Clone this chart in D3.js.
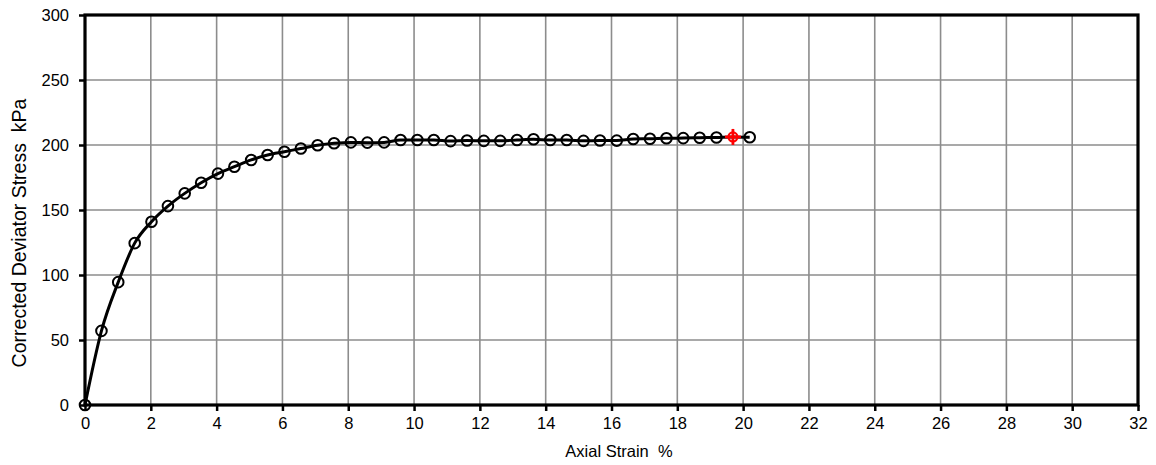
<!DOCTYPE html>
<html>
<head>
<meta charset="utf-8">
<script src="https://cdn.jsdelivr.net/npm/d3@7"></script>
<style>
  html, body { margin: 0; padding: 0; background: #fff; }
  svg { display: block; font-family: "Liberation Sans", Arial, sans-serif; }
</style>
</head>
<body>
<svg id="chart" width="1156" height="465"></svg>
<script>
// Stress-strain readings from the shear test
const strain = [0, 0.50, 1.01, 1.51, 2.02, 2.52, 3.03, 3.53, 4.04, 4.54,
  5.05, 5.55, 6.06, 6.56, 7.07, 7.57, 8.08, 8.58, 9.09, 9.59,
  10.10, 10.60, 11.11, 11.61, 12.12, 12.62, 13.13, 13.63, 14.14, 14.64,
  15.15, 15.65, 16.16, 16.66, 17.17, 17.67, 18.18, 18.68, 19.19, 19.69, 20.20];
const stress = [0, 57, 94.5, 124.5, 141, 153, 162.8, 171, 178, 183.3,
  188.5, 192.3, 194.8, 197.3, 199.8, 201.3, 202, 201.8, 202, 203.8,
  203.8, 203.8, 203, 203.5, 203.2, 203.2, 203.8, 204.4, 203.8, 203.8,
  203.2, 203.5, 203.4, 204.6, 204.8, 205.2, 205.3, 205.6, 205.8, 206.2, 206];
// Peak (failure) reading
const peakStrain = [19.69];
const peakStress = [206.2];

const xTicks = [0, 2, 4, 6, 8, 10, 12, 14, 16, 18, 20, 22, 24, 26, 28, 30, 32];
const yTicks = [0, 50, 100, 150, 200, 250, 300];
const xTitle = "Axial Strain  %";
const yTitle = "Corrected Deviator Stress  kPa";

const FONT = '"Liberation Sans", Arial, sans-serif';
const svg = d3.select("#chart");
const m = { left: 85, right: 1138, top: 15, bottom: 405 };

const x = d3.scaleLinear().domain([0, 32]).range([m.left, m.right]);
const y = d3.scaleLinear().domain([0, 300]).range([m.bottom, m.top]);

// grid
const grid = svg.append("g").attr("stroke", "#8c8c8c").attr("stroke-width", 1.6);
grid.selectAll("line.v").data(xTicks.slice(1, -1)).enter().append("line")
  .attr("x1", d => x(d)).attr("x2", d => x(d))
  .attr("y1", m.top).attr("y2", m.bottom);
grid.selectAll("line.h").data(yTicks.slice(1, -1)).enter().append("line")
  .attr("x1", m.left).attr("x2", m.right)
  .attr("y1", d => y(d)).attr("y2", d => y(d));

// axes
const xAxis = d3.axisBottom(x).tickValues(xTicks).tickSize(6).tickSizeOuter(0).tickPadding(6);
const yAxis = d3.axisLeft(y).tickValues(yTicks).tickSize(6).tickSizeOuter(0).tickPadding(10);

const gx = svg.append("g").attr("transform", `translate(0,${m.bottom})`).call(xAxis);
const gy = svg.append("g").attr("transform", `translate(${m.left},0)`).call(yAxis);
[gx, gy].forEach(g => {
  g.select(".domain").remove();
  g.attr("font-size", null).attr("font-family", null);
  g.selectAll(".tick line").attr("stroke", "#000").attr("stroke-width", 2.5);
  g.selectAll(".tick text").attr("fill", "#000")
    .style("font-size", "16.5px").style("font-family", FONT);
});

// frame
svg.append("rect")
  .attr("x", m.left).attr("y", m.top)
  .attr("width", m.right - m.left).attr("height", m.bottom - m.top)
  .attr("fill", "none").attr("stroke", "#000").attr("stroke-width", 3.2);

// curve
const pts = strain.map((s, i) => [s, stress[i]]);
const line = d3.line().x(d => x(d[0])).y(d => y(d[1])).curve(d3.curveMonotoneX);
svg.append("path").datum(pts)
  .attr("d", line).attr("fill", "none")
  .attr("stroke", "#000").attr("stroke-width", 3);

svg.append("g").selectAll("circle")
  .data(pts.filter(d => d[0] !== peakStrain[0])).enter().append("circle")
  .attr("cx", d => x(d[0])).attr("cy", d => y(d[1])).attr("r", 5.3)
  .attr("fill", "none").attr("stroke", "#000").attr("stroke-width", 2);

// peak marker
const peak = svg.append("g").attr("stroke", "#ff0000");
peakStrain.forEach((s, i) => {
  const cx = x(s), cy = y(peakStress[i]);
  peak.append("circle").attr("cx", cx).attr("cy", cy).attr("r", 4.5)
    .attr("fill", "none").attr("stroke-width", 2.2);
  peak.append("line").attr("x1", cx - 8).attr("x2", cx + 8)
    .attr("y1", cy).attr("y2", cy).attr("stroke-width", 2.8);
  peak.append("line").attr("x1", cx).attr("x2", cx)
    .attr("y1", cy - 8).attr("y2", cy + 8).attr("stroke-width", 2.8);
});

// titles
svg.append("text")
  .attr("x", 619).attr("y", 457)
  .attr("text-anchor", "middle").style("font-size", "16.5px").style("font-family", FONT)
  .attr("xml:space", "preserve").text(xTitle);
svg.append("text")
  .attr("transform", "translate(26,233) rotate(-90)")
  .attr("text-anchor", "middle").style("font-size", "19.5px").style("font-family", FONT)
  .attr("xml:space", "preserve").text(yTitle);
</script>
</body>
</html>
